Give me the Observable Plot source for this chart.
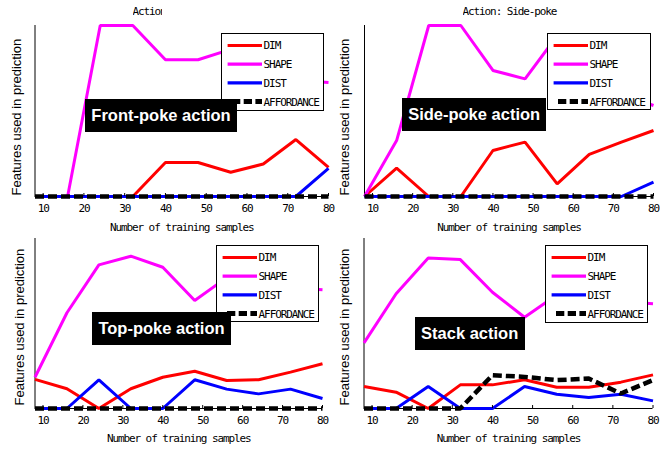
<!DOCTYPE html>
<html>
<head>
<meta charset="utf-8">
<script src="https://cdn.jsdelivr.net/npm/d3@7"></script>
<script src="https://cdn.jsdelivr.net/npm/@observablehq/plot@0.6"></script>
<style>
  html, body { margin: 0; padding: 0; background: #fff; }
  #root { position: relative; width: 667px; height: 449px; overflow: hidden; background: #fff; }
  .panel { position: absolute; }
  .mono { font-family: "DejaVu Sans Mono", monospace; font-size: 11px; letter-spacing: -1.1px; color: #000; }
  .title { position: absolute; white-space: nowrap; overflow: hidden; line-height: 12px; }
  .tag { position: absolute; background: #000; color: #fff; font-family: "Liberation Sans", Arial, sans-serif;
         font-weight: bold; font-size: 16.5px; display: flex; align-items: center; justify-content: center; white-space: nowrap; }
  .legend { position: absolute; background: #fff; border: 1px solid #000; box-sizing: border-box; }
  .legend svg { position: absolute; left: 0; top: 0; overflow: visible; }
</style>
</head>
<body>
<div id="root"></div>
<script>
// ---------------- data ----------------
const samples = [8, 16, 24, 32, 40, 48, 56, 64, 72, 80];
const seriesNames = ["DIM", "SHAPE", "DIST", "AFFORDANCE"];
const actionTags = ["Front-poke action", "Side-poke action", "Top-poke action", "Stack action"];
const panelTitles = ["Action: Front-poke", "Action: Side-poke", "", ""];
const xLabel = "Number of training samples";
const yLabel = "Features used in prediction";

const frontDim   = [0, 0, 0, 0, 0.199, 0.199, 0.142, 0.19, 0.333, 0.17];
const frontShape = [0, 0, 1, 1, 0.80, 0.80, 0.86, 0.84, 0.68, 0.667];
const frontDist  = [0, 0, 0, 0, 0, 0, 0, 0, 0, 0.164];
const frontAff   = [0, 0, 0, 0, 0, 0, 0, 0, 0, 0];

const sideDim   = [0, 0.166, 0, 0, 0.269, 0.318, 0.074, 0.246, 0.318, 0.386];
const sideShape = [0, 0.327, 1, 1, 0.737, 0.688, 0.94, 0.80, 0.60, 0.532];
const sideDist  = [0, 0, 0, 0, 0, 0, 0, 0, 0, 0.084];
const sideAff   = [0, 0, 0, 0, 0, 0, 0, 0, 0, 0];

const topDim   = [0.171, 0.116, 0, 0.116, 0.184, 0.219, 0.165, 0.169, 0.214, 0.263];
const topShape = [0.184, 0.563, 0.845, 0.896, 0.831, 0.635, 0.77, 0.73, 0.71, 0.698];
const topDist  = [0, 0, 0.169, 0, 0, 0.169, 0.114, 0.086, 0.114, 0.059];
const topAff   = [0, 0, 0, 0, 0, 0, 0, 0, 0, 0];

const stackDim   = [0.129, 0.096, 0, 0.139, 0.139, 0.169, 0.125, 0.125, 0.155, 0.198];
const stackShape = [0.386, 0.675, 0.886, 0.876, 0.684, 0.537, 0.668, 0.65, 0.63, 0.616];
const stackDist  = [0, 0, 0.129, 0, 0, 0.129, 0.084, 0.065, 0.084, 0.045];
const stackAff   = [0, 0, 0, 0, 0.196, 0.186, 0.167, 0.176, 0.088, 0.167];

const xTicks = [10, 20, 30, 40, 50, 60, 70, 80];

// ---------------- styles / layout ----------------
const seriesStyle = {
  DIM:        {stroke: "#ff0000", strokeWidth: 3},
  SHAPE:      {stroke: "#ff00ff", strokeWidth: 3},
  DIST:       {stroke: "#0000ff", strokeWidth: 3},
  AFFORDANCE: {stroke: "#000000", strokeWidth: 4.5, strokeDasharray: "9,4"}
};
const monoFont = "DejaVu Sans Mono, monospace";
const monoSize = 11;
const monoSpacing = "-1.1px";

const panels = [
  {values: [frontDim, frontShape, frontDist, frontAff], left: 0, top: 0, width: 333, height: 234,
   mL: 34.5, mR: 5, mT: 25, mB: 38, xlabDy: 27, ylabDx: -14.5, ylabDy: -1,
   title: {left: 132.5, top: 6, width: 29},
   tag: {left: 85, top: 99, w: 152, h: 33}, legend: {left: 220.7, top: 33.3, w: 103.3, h: 77.4}},
  {values: [sideDim, sideShape, sideDist, sideAff], left: 333, top: 0, width: 334, height: 234,
   mL: 31, mR: 14, mT: 25, mB: 38, xlabDy: 27, ylabDx: -16, ylabDy: -1,
   title: {left: 462.5, top: 6, width: 120},
   tag: {left: 402, top: 98.3, w: 144.3, h: 32.7}, legend: {left: 547.3, top: 32.7, w: 103.4, h: 77.3}},
  {values: [topDim, topShape, topDist, topAff], left: 0, top: 234, width: 333, height: 215,
   mL: 34.5, mR: 11, mT: 4, mB: 41, xlabDy: 26, ylabDx: -11.5, ylabDy: -3,
   title: null,
   tag: {left: 92.3, top: 312.3, w: 138.4, h: 32.7}, legend: {left: 215.7, top: 245, w: 103.3, h: 77.3}},
  {values: [stackDim, stackShape, stackDist, stackAff], left: 333, top: 234, width: 334, height: 215,
   mL: 30.5, mR: 14.5, mT: 4, mB: 41, xlabDy: 26, ylabDx: -15.5, ylabDy: -3,
   title: null,
   tag: {left: 414.7, top: 316.7, w: 110, h: 33.3}, legend: {left: 544.7, top: 245, w: 103.3, h: 78.3}}
];

const root = document.getElementById("root");

panels.forEach((p, pi) => {
  const plotH = p.height - p.mT - p.mB;
  const lineMarks = seriesNames.map((name, si) => {
    const rows = samples.map((x, i) => ({x, y: p.values[si][i]}));
    return Plot.line(rows, {x: "x", y: "y", ...seriesStyle[name], strokeLinejoin: "miter", strokeLinecap: "butt"});
  });

  const chart = Plot.plot({
    width: p.width,
    height: p.height,
    marginLeft: p.mL,
    marginRight: p.mR,
    marginTop: p.mT,
    marginBottom: p.mB,
    style: {background: "transparent", overflow: "visible",
            fontFamily: monoFont, fontSize: monoSize + "px", letterSpacing: monoSpacing, color: "#000"},
    x: {domain: [samples[0], samples[samples.length - 1]], ticks: xTicks, tickSize: 0, tickPadding: 8, label: null},
    y: {domain: [0, 1], axis: null},
    marks: [
      Plot.ruleY([0], {stroke: "#000", strokeWidth: 1}),
      Plot.ruleX([samples[0]], {stroke: "#000", strokeWidth: 1}),
      ...lineMarks,
      Plot.tickX(xTicks, {x: d => d, stroke: "#000", strokeWidth: 1, insetTop: plotH - 3}),
      Plot.text([xLabel], {text: d => d, frameAnchor: "bottom", lineAnchor: "top", dy: p.xlabDy,
                           fontFamily: monoFont, fontSize: monoSize, fill: "#000"}),
      Plot.text([yLabel], {text: d => d, frameAnchor: "bottom-left", textAnchor: "start", rotate: -90,
                           dx: p.ylabDx, dy: p.ylabDy, fontFamily: "Liberation Sans, Arial, sans-serif",
                           fontSize: 13, fill: "#000"})
    ]
  });
  const wrap = document.createElement("div");
  wrap.className = "panel";
  wrap.style.left = p.left + "px";
  wrap.style.top = p.top + "px";
  wrap.appendChild(chart);
  root.appendChild(wrap);
  chart.querySelectorAll("text").forEach(t => {
    if (t.textContent === yLabel) t.style.letterSpacing = "0px";
  });

  // title
  if (p.title && panelTitles[pi]) {
    const t = document.createElement("div");
    t.className = "title mono";
    t.style.left = p.title.left + "px";
    t.style.top = p.title.top + "px";
    t.style.width = p.title.width + "px";
    t.textContent = panelTitles[pi];
    root.appendChild(t);
  }

  // legend
  const lg = p.legend;
  const ldiv = document.createElement("div");
  ldiv.className = "legend";
  ldiv.style.left = lg.left + "px";
  ldiv.style.top = lg.top + "px";
  ldiv.style.width = lg.w + "px";
  ldiv.style.height = lg.h + "px";
  root.appendChild(ldiv);
  const svg = d3.select(ldiv).append("svg").attr("width", lg.w).attr("height", lg.h);
  seriesNames.forEach((name, i) => {
    const cy = 11.5 + i * 18.7;
    const st = seriesStyle[name];
    const isAff = name === "AFFORDANCE";
    svg.append("line")
      .attr("x1", isAff ? 10 : 5.6).attr("x2", 40)
      .attr("y1", cy).attr("y2", cy)
      .attr("stroke", st.stroke)
      .attr("stroke-width", isAff ? 5 : 3.2)
      .attr("stroke-dasharray", isAff ? "8.3,3.4" : null);
    svg.append("text")
      .attr("x", 41.6).attr("y", cy)
      .attr("dy", "0.36em")
      .attr("font-family", monoFont)
      .attr("font-size", monoSize)
      .attr("letter-spacing", monoSpacing)
      .attr("fill", "#000")
      .text(name);
  });

  // action tag
  const tg = p.tag;
  const tdiv = document.createElement("div");
  tdiv.className = "tag";
  tdiv.style.left = tg.left + "px";
  tdiv.style.top = tg.top + "px";
  tdiv.style.width = tg.w + "px";
  tdiv.style.height = tg.h + "px";
  tdiv.textContent = actionTags[pi];
  root.appendChild(tdiv);
});
</script>
</body>
</html>
